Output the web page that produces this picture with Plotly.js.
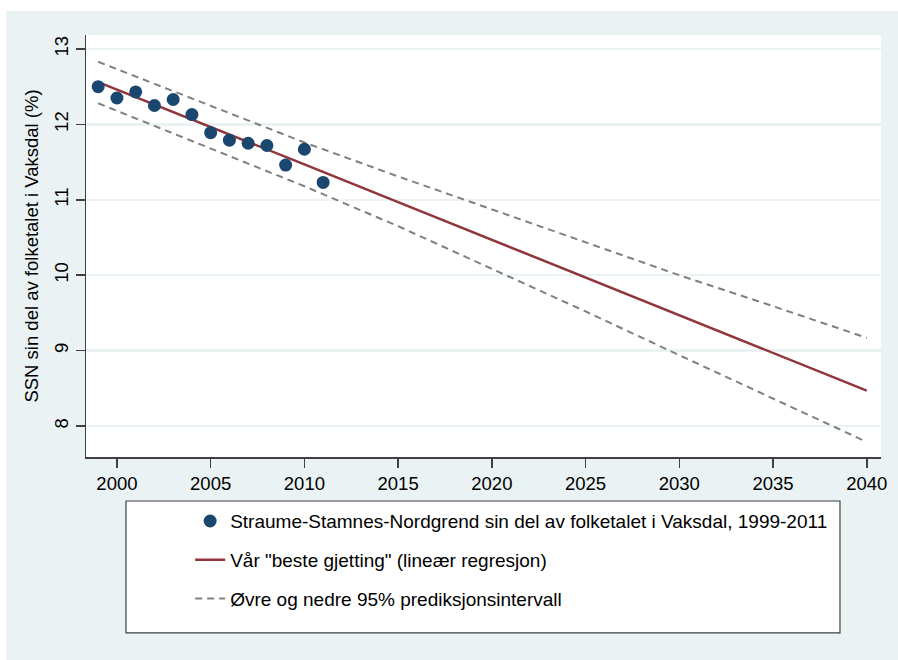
<!DOCTYPE html>
<html>
<head>
<meta charset="utf-8">
<script src="https://cdn.plot.ly/plotly-3.0.1.min.js"></script>
<style>html,body{margin:0;padding:0;background:#fff;}#chart{width:898px;height:660px;}</style>
</head>
<body>
<div id="chart"></div>
<script>
// Observed data
const obsYears = [1999,2000,2001,2002,2003,2004,2005,2006,2007,2008,2009,2010,2011];
const obsShare = [12.50,12.35,12.43,12.25,12.33,12.13,11.89,11.79,11.75,11.72,11.46,11.67,11.23];

// Fitted line and prediction interval
const fitYears = [1999,2005,2010,2015,2020,2025,2030,2035,2040];
const fitValues = [12.56,11.97,11.47,10.97,10.47,9.97,9.48,8.98,8.47];
const upperValues = [12.83,12.25,11.76,11.31,10.87,10.43,10.00,9.59,9.17];
const lowerValues = [12.28,11.68,11.18,10.65,10.09,9.52,8.94,8.36,7.79];

const xTicks = [2000,2005,2010,2015,2020,2025,2030,2035,2040];
const yTicks = [8,9,10,11,12,13];

const legendNames = [
  'Straume-Stamnes-Nordgrend sin del av folketalet i Vaksdal, 1999-2011',
  'Vår "beste gjetting" (lineær regresjon)',
  'Øvre og nedre 95% prediksjonsintervall'
];
const yTitle = 'SSN sin del av folketalet i Vaksdal (%)';

const navy = '#1A476F', maroon = '#90353B', gray = '#808080', bg = '#EAF2F3';

const traces = [
  {x: fitYears, y: upperValues, mode: 'lines', name: legendNames[2], legendgroup: 'c',
   line: {color: gray, width: 2, dash: '7px,5px'}, showlegend: true, legendrank: 3},
  {x: fitYears, y: lowerValues, mode: 'lines', name: legendNames[2], legendgroup: 'c',
   line: {color: gray, width: 2, dash: '7px,5px'}, showlegend: false},
  {x: fitYears, y: fitValues, mode: 'lines', name: legendNames[1], legendgroup: 'b',
   line: {color: maroon, width: 2.5}, legendrank: 2},
  {x: obsYears, y: obsShare, mode: 'markers', name: legendNames[0], legendgroup: 'a',
   marker: {color: navy, size: 13}, legendrank: 1}
];

const layout = {
  width: 898, height: 660,
  margin: {l: 86, r: 17, t: 35, b: 203},
  paper_bgcolor: bg,
  plot_bgcolor: '#ffffff',
  font: {family: 'Liberation Sans, Arial, sans-serif', color: '#000', size: 18},
  showlegend: true,
  legend: {
    x: 0.131, y: -0.107, xanchor: 'left', yanchor: 'top',
    bgcolor: 'rgba(0,0,0,0)', borderwidth: 0,
    traceorder: 'grouped', tracegroupgap: 11,
    font: {size: 19, color: '#000'}
  },
  xaxis: {
    range: [1998.35, 2040.76], tickvals: xTicks, ticktext: xTicks.map(String),
    showgrid: false, zeroline: false,
    showline: true, linecolor: '#404040', linewidth: 1.5,
    ticks: 'outside', ticklen: 9, tickcolor: '#404040', tickwidth: 1.5,
    tickfont: {size: 18.5, color: '#000'}
  },
  yaxis: {
    range: [7.59, 13.185], tickvals: yTicks, ticktext: yTicks.map(String),
    showgrid: true, gridcolor: bg, gridwidth: 2.5, zeroline: false,
    showline: true, linecolor: '#404040', linewidth: 1.5,
    ticks: 'outside', ticklen: 9, tickcolor: '#404040', tickwidth: 1.5,
    tickangle: -90,
    tickfont: {size: 18.5, color: '#000'},
    title: {text: yTitle, font: {size: 18.5, color: '#000'}, standoff: 7}
  },
  shapes: [
    // white strips at top and left edges
    {type: 'rect', xref: 'paper', yref: 'paper', x0: -0.11, x1: 1.03, y0: 1.057, y1: 1.09,
     fillcolor: '#ffffff', line: {width: 0}, layer: 'below'},
    {type: 'rect', xref: 'paper', yref: 'paper', x0: -0.11, x1: -0.1006, y0: -0.49, y1: 1.09,
     fillcolor: '#ffffff', line: {width: 0}, layer: 'below'},
    // legend box
    {type: 'rect', xref: 'paper', yref: 'paper', x0: 0.0503, x1: 0.9484, y0: -0.417, y1: -0.1043,
     fillcolor: '#ffffff', line: {color: '#404040', width: 1.2}, layer: 'below'}
  ]
};

Plotly.newPlot('chart', traces, layout, {displayModeBar: false, staticPlot: true});
</script>
</body>
</html>
